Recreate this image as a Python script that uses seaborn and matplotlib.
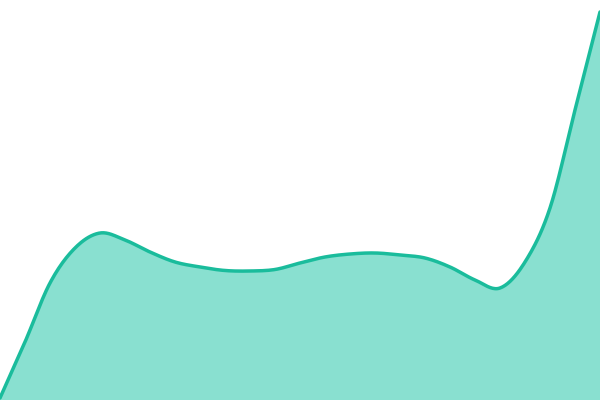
import numpy as np
import pandas as pd
import matplotlib
matplotlib.use("Agg")
import matplotlib.pyplot as plt
import seaborn as sns

# Data (y axis 0..400)
x_pos = list(range(0, 601, 25))
values = [2, 58, 117, 152, 167, 160, 148, 138, 133, 129.5, 129, 130.5, 137,
          143, 146, 147, 145, 142, 133, 120, 112, 138, 192, 290, 388]

LINE = "#1abc9c"
FILL = "#89e0d0"


# Helpers
def smooth_curve(x, y, n=20):
    # cubic Hermite with Catmull-Rom style tangents
    x = np.asarray(x, float)
    y = np.asarray(y, float)
    h = np.diff(x)
    m = np.gradient(y, x)
    xs, ys = [], []
    for i in range(len(h)):
        t = np.linspace(0, 1, n, endpoint=False)
        h00 = 2 * t**3 - 3 * t**2 + 1
        h10 = t**3 - 2 * t**2 + t
        h01 = -2 * t**3 + 3 * t**2
        h11 = t**3 - t**2
        xs.append(x[i] + t * h[i])
        ys.append(h00 * y[i] + h10 * h[i] * m[i] + h01 * y[i + 1] + h11 * h[i] * m[i + 1])
    xs.append([x[-1]])
    ys.append([y[-1]])
    return np.concatenate(xs), np.concatenate(ys)


# Main
sns.set_theme(style="white")
fig = plt.figure(figsize=(6, 4), dpi=100)
ax = fig.add_axes([0, 0, 1, 1])

cx, cy = smooth_curve(x_pos, values)
df = pd.DataFrame({"x": cx, "y": cy})

ax.fill_between(df["x"], df["y"], 0, color=FILL, linewidth=0)
sns.lineplot(data=df, x="x", y="y", ax=ax, color=LINE, linewidth=2.5, sort=False)

ax.set_xlim(0, 600)
ax.set_ylim(0, 400)
ax.set_axis_off()

fig.savefig("out.png", dpi=100)
